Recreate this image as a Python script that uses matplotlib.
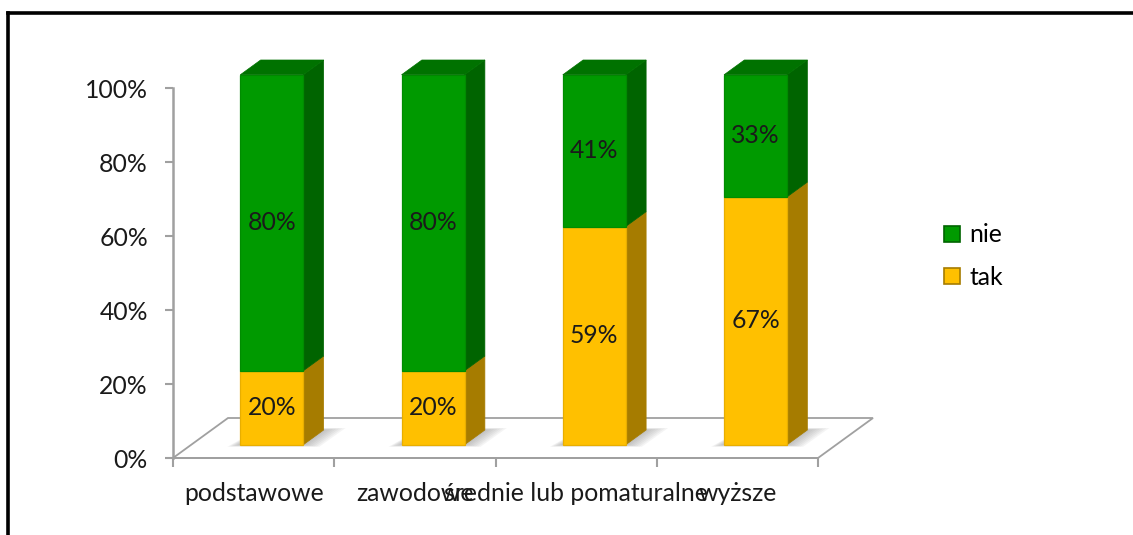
import matplotlib
matplotlib.use("Agg")
import matplotlib.pyplot as plt
from matplotlib.patches import Polygon, Rectangle, Patch
from matplotlib.lines import Line2D

# ---- data ----
categories = ["podstawowe", "zawodowe", "średnie lub pomaturalne", "wyższe"]
tak = [20, 20, 59, 67]
nie = [80, 80, 41, 33]
series_names = ["tak", "nie"]
yticks = [0, 20, 40, 60, 80, 100]
ytick_labels = ["0%", "20%", "40%", "60%", "80%", "100%"]

# ---- styles ----
W, H = 1133, 535
FONT = ["Lato", "DejaVu Sans"]
FS = 17.8
front_col = {"tak": "#FFC000", "nie": "#009A00"}
side_col = {"tak": "#A67C00", "nie": "#006400"}
top_col = {"tak": "#C89600", "nie": "#007200"}
edge_col = {"tak": "#E8AE00", "nie": "#008C00"}
axis_gray = "#A0A0A0"

plt.rcParams["font.family"] = FONT

fig = plt.figure(figsize=(W / 100, H / 100), dpi=100)
fig.patch.set_facecolor("white")

ax = fig.add_axes([173 / W, 1 - 458 / H, (818 - 173) / W, 370 / H])
ax.set_xlim(0, len(categories))
ax.set_ylim(0, 100)
ax.patch.set_alpha(0)

px_x = (818 - 173) / len(categories)   # pixels per category unit
px_y = 370 / 100.0                     # pixels per percent
ux, uy = 1 / px_x, 1 / px_y
DX = 55 * ux                           # full floor depth in x-units
DY = 40 * uy                           # full floor depth in percent units
f0, f1 = 0.33, 0.70
bw = 63 * ux

# floor
n = len(categories)
floor = Polygon([(0, 0), (n, 0), (n + DX, DY), (DX, DY)], closed=True,
                facecolor="white", edgecolor=axis_gray, lw=1.3, clip_on=False, zorder=1)
ax.add_patch(floor)

# shadows + bars
for i in range(n):
    x0 = i + 0.5 - bw / 2 + f0 * DX
    x1 = x0 + bw
    off = f0 * DY
    d = f1 - f0
    # soft shadow on the floor (layered)
    for k in range(7):
        m = 1.0 - k / 7.0
        sh = Polygon([(x0 - 13 * m * ux, off - 2 * m * uy),
                      (x1 + 16 * m * ux, off - 2 * m * uy),
                      (x1 + d * DX + 22 * m * ux, off + d * DY + 2 * m * uy),
                      (x0 + d * DX, off + d * DY + 2 * m * uy)],
                     closed=True, facecolor="#707070", alpha=0.07, lw=0,
                     clip_on=False, zorder=2)
        ax.add_patch(sh)
    bottom = 0
    segs = [("tak", tak[i]), ("nie", nie[i])]
    for j, (name, val) in enumerate(segs):
        y0 = bottom + off
        y1 = bottom + val + off
        side = Polygon([(x1, y0), (x1 + d * DX, y0 + d * DY),
                        (x1 + d * DX, y1 + d * DY), (x1, y1)], closed=True,
                       facecolor=side_col[name], edgecolor=side_col[name], lw=0.5,
                       clip_on=False, zorder=3 + j)
        ax.add_patch(side)
        front = Rectangle((x0, y0), bw, val, facecolor=front_col[name],
                          edgecolor=edge_col[name], lw=0.9, clip_on=False, zorder=5 + j)
        ax.add_patch(front)
        if j == len(segs) - 1:
            top = Polygon([(x0, y1), (x1, y1), (x1 + d * DX, y1 + d * DY),
                           (x0 + d * DX, y1 + d * DY)], closed=True,
                          facecolor=top_col[name], edgecolor=top_col[name], lw=0.5,
                          clip_on=False, zorder=7)
            ax.add_patch(top)
        ax.text((x0 + x1) / 2, (y0 + y1) / 2, f"{val}%", ha="center", va="center",
                fontsize=FS, color="#1a1a1a", zorder=10)
        bottom += val

# axes styling
for s in ["top", "right"]:
    ax.spines[s].set_visible(False)
ax.spines["left"].set_color(axis_gray)
ax.spines["left"].set_linewidth(1.8)
ax.spines["bottom"].set_color(axis_gray)
ax.spines["bottom"].set_linewidth(1.3)
ax.spines["left"].set_zorder(0.5)

ax.set_yticks(yticks)
ax.set_yticklabels(ytick_labels, fontsize=FS, color="#1a1a1a")
ax.tick_params(axis="y", direction="out", length=6, width=1.5, color=axis_gray, pad=12)

ax.set_xticks([i + 0.5 for i in range(n)])
ax.set_xticklabels(categories, fontsize=FS, color="#1a1a1a")
ax.set_xticks(range(n + 1), minor=True)
ax.tick_params(axis="x", which="major", length=0, pad=17)
ax.tick_params(axis="x", which="minor", direction="out", length=6.5, width=1.5, color=axis_gray)

# legend
handles = [Patch(facecolor=front_col["nie"], edgecolor=side_col["nie"], lw=1.2, label="nie"),
           Patch(facecolor=front_col["tak"], edgecolor=side_col["tak"], lw=1.2, label="tak")]
fig.legend(handles=handles, loc="center left", bbox_to_anchor=(932 / W, 1 - 256 / H),
           frameon=False, fontsize=FS, handlelength=0.62, handleheight=0.62,
           handletextpad=0.4, labelspacing=0.78, borderpad=0)

# outer border (top and left lines)
fig.add_artist(Line2D([8 / W, 1.0], [1 - 13 / H, 1 - 13 / H], color="black", lw=2.6,
                      transform=fig.transFigure))
fig.add_artist(Line2D([8 / W, 8 / W], [1 - 13 / H, 0.0], color="black", lw=2.6,
                      transform=fig.transFigure))

fig.savefig("out.png", dpi=100)
